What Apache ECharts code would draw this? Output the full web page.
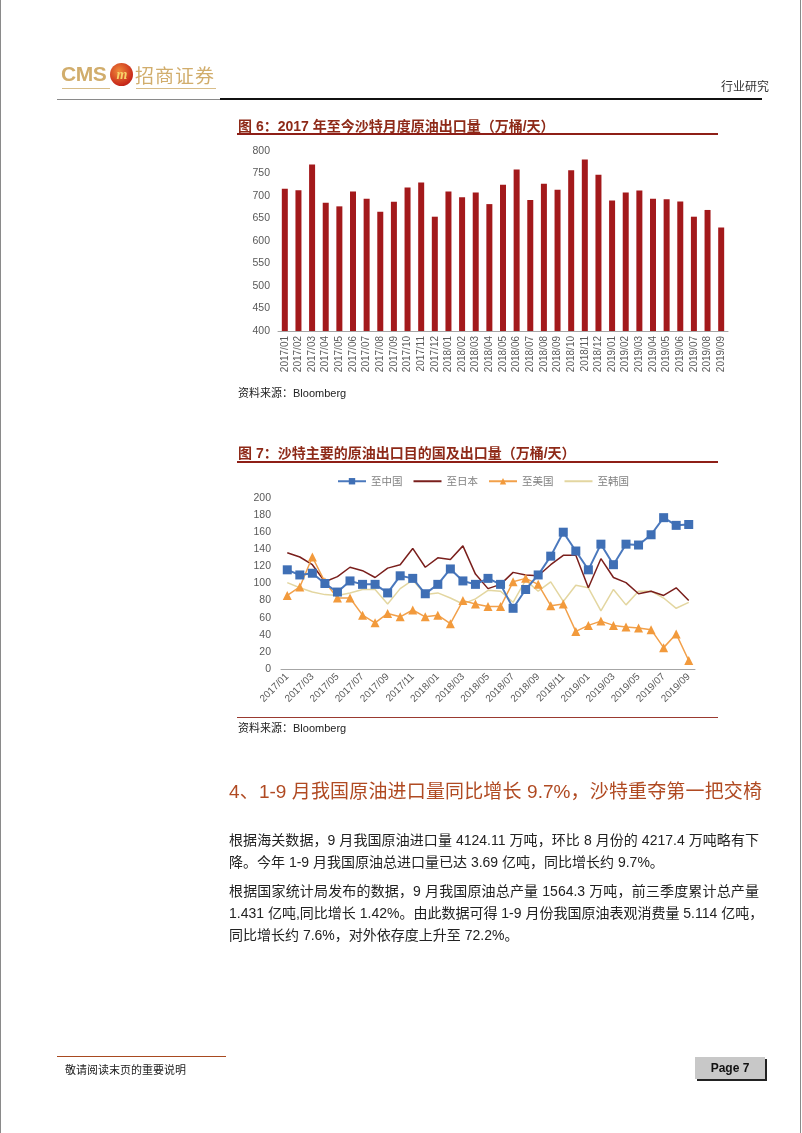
<!DOCTYPE html>
<html><head><meta charset="utf-8">
<script src="https://cdn.jsdelivr.net/npm/echarts@6/dist/echarts.min.js"></script>
<style>
html,body{margin:0;padding:0;background:#fff;}
#page{position:relative;width:802px;height:1133px;overflow:hidden;background:#fff;font-family:"Liberation Sans","Noto Sans CJK SC",sans-serif;}
#chart{position:absolute;left:0;top:0;width:802px;height:1133px;}
.t{position:absolute;white-space:nowrap;}
.line{position:absolute;}
.para{position:absolute;left:229px;width:530px;font-size:14px;color:#222;line-height:22px;white-space:nowrap;}
.just{text-align:justify;text-align-last:justify;}
</style></head>
<body><div id="page">
<div id="chart"></div>
<!-- page borders -->
<div class="line" style="left:0;top:0;width:1px;height:1133px;background:#8a8a8a"></div>
<div class="line" style="left:800px;top:0;width:1px;height:1133px;background:#8a8a8a"></div>
<!-- header -->
<div class="t" style="left:61px;top:62px;font-size:21px;font-weight:bold;color:#d1ad6c;font-family:'Liberation Sans';letter-spacing:-0.5px">CMS</div>
<div class="t" style="left:110px;top:63px;width:23px;height:23px;border-radius:50%;background:radial-gradient(circle at 40% 35%,#f08a3a,#c8281a 70%,#8a1a10);"></div>
<div class="t" style="left:112px;top:63px;width:20px;font-size:14px;line-height:23px;text-align:center;color:#f7d46a;font-weight:bold;font-style:italic;font-family:'Liberation Serif'">m</div>
<div class="t" style="left:135px;top:62px;font-size:19px;color:#d1ad6c;font-family:'Noto Sans CJK SC';line-height:26px;letter-spacing:1px">招商证券</div>
<div class="line" style="left:62px;top:88px;width:48px;height:1px;background:#d8bd88"></div>
<div class="line" style="left:136px;top:88px;width:80px;height:1px;background:#d8bd88"></div>
<div class="t" style="left:721px;top:77px;font-size:12px;color:#333;font-family:'Noto Sans CJK SC'">行业研究</div>
<div class="line" style="left:57px;top:99px;width:163px;height:1px;background:#8a8a8a"></div>
<div class="line" style="left:220px;top:98px;width:542px;height:2px;background:#111"></div>
<!-- fig 6 title -->
<div class="t" style="left:238px;top:115px;font-size:14px;font-weight:bold;color:#8e2a18;font-family:'Liberation Sans','Noto Sans CJK SC'">图 6：2017 年至今沙特月度原油出口量（万桶/天）</div>
<div class="line" style="left:237px;top:133px;width:481px;height:1.5px;background:#8e1f17"></div>
<div class="t" style="left:238px;top:384px;font-size:11px;color:#222">资料来源：Bloomberg</div>
<!-- fig 7 title -->
<div class="t" style="left:238px;top:442px;font-size:14px;font-weight:bold;color:#8e2a18;font-family:'Liberation Sans','Noto Sans CJK SC'">图 7：沙特主要的原油出口目的国及出口量（万桶/天）</div>
<div class="line" style="left:237px;top:461px;width:481px;height:1.5px;background:#8e1f17"></div>
<div class="line" style="left:237px;top:717px;width:481px;height:1px;background:#9a3a30"></div>
<div class="t" style="left:238px;top:719px;font-size:11px;color:#222">资料来源：Bloomberg</div>
<!-- heading -->
<div class="t just" style="left:229px;top:778px;width:533px;font-size:19px;color:#b04a22;line-height:28px">4、1-9 月我国原油进口量同比增长 9.7%，沙特重夺第一把交椅</div>
<!-- paragraphs -->
<div class="para just" style="top:829px">根据海关数据，9 月我国原油进口量 4124.11 万吨，环比 8 月份的 4217.4 万吨略有下</div>
<div class="para" style="top:851px">降。今年 1-9 月我国原油总进口量已达 3.69 亿吨，同比增长约 9.7%。</div>
<div class="para just" style="top:880px">根据国家统计局发布的数据，9 月我国原油总产量 1564.3 万吨，前三季度累计总产量</div>
<div class="para just" style="top:902px">1.431 亿吨,同比增长 1.42%。由此数据可得 1-9 月份我国原油表观消费量 5.114 亿吨，</div>
<div class="para" style="top:924px">同比增长约 7.6%，对外依存度上升至 72.2%。</div>
<!-- footer -->
<div class="line" style="left:57px;top:1056px;width:169px;height:1px;background:#a84a20"></div>
<div class="t" style="left:65px;top:1061px;font-size:11px;color:#222;font-family:'Noto Sans CJK SC'">敬请阅读末页的重要说明</div>
<div class="t" style="left:695px;top:1057px;width:70px;height:22px;background:#c8c8c8;box-shadow:2px 2px 0 #222;font-size:12px;font-weight:bold;color:#111;line-height:22px;text-align:center;font-family:'Liberation Sans'">Page 7</div>
</div>
<script>
const months = ['2017/01','2017/02','2017/03','2017/04','2017/05','2017/06','2017/07','2017/08','2017/09','2017/10','2017/11','2017/12',
 '2018/01','2018/02','2018/03','2018/04','2018/05','2018/06','2018/07','2018/08','2018/09','2018/10','2018/11','2018/12',
 '2019/01','2019/02','2019/03','2019/04','2019/05','2019/06','2019/07','2019/08','2019/09'];
const saudiExports = [716,713,770,685,677,710,694,665,687,719,730,654,710,697,708,682,725,759,691,727,714,757,781,747,690,708,712,694,693,688,654,669,630];
const toChina = [116,110,112,100,90,103,99,99,89,109,106,88,99,117,103,99,106,99,71,93,110,132,160,138,116,146,122,146,145,157,177,168,169];
const toJapan = [136,131,122,102,108,119,115,107,118,122,141,119,130,128,144,111,94,99,113,110,109,122,133,133,95,129,107,101,88,91,86,95,80];
const toUSA = [86,96,131,102,83,83,63,54,65,61,69,61,63,53,80,76,73,73,102,106,99,74,76,44,51,56,51,49,48,46,25,41,10];
const toKorea = [101,95,90,87,86,89,93,93,76,94,104,87,89,83,76,82,92,91,78,104,91,102,79,98,95,68,93,75,91,91,83,71,78];
const seriesNames = ['至中国','至日本','至美国','至韩国'];

const chart = echarts.init(document.getElementById('chart'), null, {renderer:'canvas'});
const lblFont = 'Liberation Sans';
chart.setOption({
  animation:false,
  backgroundColor:'transparent',
  textStyle:{fontFamily:lblFont},
  legend:{
    top:471, left:332, itemWidth:28, itemHeight:8, itemGap:10,
    data:[
      {name:seriesNames[0]},
      {name:seriesNames[1], itemStyle:{opacity:0}},
      {name:seriesNames[2]},
      {name:seriesNames[3], itemStyle:{opacity:0}}
    ],
    textStyle:{color:'#808080', fontSize:10.5, fontFamily:'Noto Sans CJK SC'}
  },
  grid:[
    {left:278, top:151, width:450, height:180, containLabel:false},
    {left:281, top:498, width:414, height:171, containLabel:false}
  ],
  xAxis:[
    {gridIndex:0, type:'category', data:months,
     axisLine:{lineStyle:{color:'#a6a6a6'}}, axisTick:{lineStyle:{color:'#a6a6a6'}, length:4},
     axisLabel:{rotate:90, fontSize:10, color:'#595959', margin:5, interval:0}},
    {gridIndex:1, type:'category', data:months,
     axisLine:{lineStyle:{color:'#a6a6a6'}}, axisTick:{lineStyle:{color:'#a6a6a6'}, length:4, interval:1},
     axisLabel:{rotate:45, fontSize:10, color:'#595959', margin:6, interval:1}}
  ],
  yAxis:[
    {gridIndex:0, type:'value', min:400, max:800, interval:50,
     axisLine:{show:false}, axisTick:{show:false}, splitLine:{show:false},
     axisLabel:{fontSize:10.5, color:'#595959', margin:8}},
    {gridIndex:1, type:'value', min:0, max:200, interval:20,
     axisLine:{show:false}, axisTick:{show:false}, splitLine:{show:false},
     axisLabel:{fontSize:10.5, color:'#595959', margin:10}}
  ],
  series:[
    {type:'bar', xAxisIndex:0, yAxisIndex:0, data:saudiExports, barWidth:6,
     itemStyle:{color:'#a3191b'}},
    {name:seriesNames[0], type:'line', xAxisIndex:1, yAxisIndex:1, data:toChina,
     symbol:'rect', symbolSize:9, showAllSymbol:true, z:5,
     lineStyle:{color:'#4a78bd', width:2}, itemStyle:{color:'#3f6fb5'}},
    {name:seriesNames[1], type:'line', xAxisIndex:1, yAxisIndex:1, data:toJapan,
     showSymbol:false, symbol:'none', z:3,
     lineStyle:{color:'#7a1f1c', width:1.5}, itemStyle:{color:'#7a1f1c'}},
    {name:seriesNames[2], type:'line', xAxisIndex:1, yAxisIndex:1, data:toUSA,
     symbol:'triangle', symbolSize:9, showAllSymbol:true, z:4,
     lineStyle:{color:'#f2a04a', width:1.5}, itemStyle:{color:'#f29a3c'}},
    {name:seriesNames[3], type:'line', xAxisIndex:1, yAxisIndex:1, data:toKorea,
     showSymbol:false, symbol:'none', z:2,
     lineStyle:{color:'#e3d6a0', width:1.5}, itemStyle:{color:'#e3d6a0'}}
  ]
});
</script>
</body></html>
